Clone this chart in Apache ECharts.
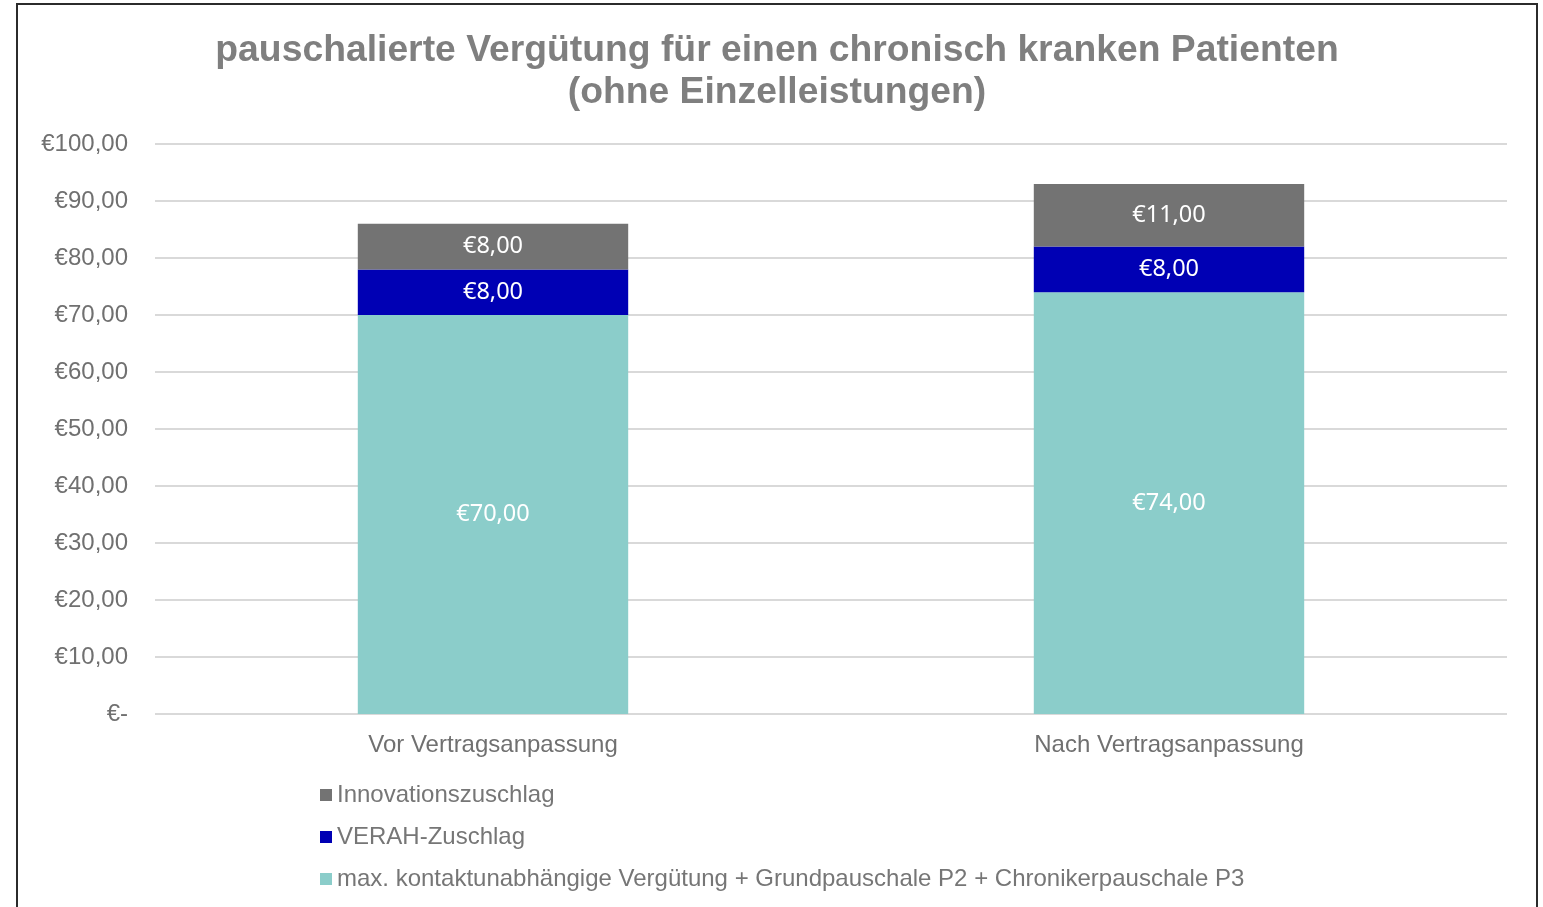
<!DOCTYPE html>
<html>
<head>
<meta charset="utf-8">
<script src="https://cdn.jsdelivr.net/npm/echarts@6/dist/echarts.min.js"></script>
<style>
  html, body { margin: 0; padding: 0; background: #fff; }
  #chart { width: 1543px; height: 907px; }
</style>
</head>
<body>
<div id="chart"></div>
<script>
// Daten
var categories = ["Vor Vertragsanpassung", "Nach Vertragsanpassung"];
var pauschale = [70, 74];     // max. kontaktunabhängige Vergütung + P2 + P3
var verah = [8, 8];           // VERAH-Zuschlag
var innovation = [8, 11];     // Innovationszuschlag
var yTicks = [0, 10, 20, 30, 40, 50, 60, 70, 80, 90, 100];

var nameP = "max. kontaktunabhängige Vergütung + Grundpauschale P2 + Chronikerpauschale P3";
var nameV = "VERAH-Zuschlag";
var nameI = "Innovationszuschlag";

function euro(v) {
    if (v === 0) return "€-";
    return "€" + v.toFixed(2).replace(".", ",");
}

var axisFont = "Liberation Sans, Arial, sans-serif";
var labelStyle = {
    show: true,
    position: "inside",
    color: "#ffffff",
    fontFamily: "Noto Sans, sans-serif",
    fontSize: 23.5,
    formatter: function (p) { return euro(p.value); }
};

function barSeries(name, data, color) {
    return {
        name: name,
        type: "bar",
        stack: "total",
        barWidth: "40%",
        data: data,
        itemStyle: { color: color },
        label: labelStyle
    };
}

var chart = echarts.init(document.getElementById("chart"));
chart.setOption({
    animation: false,
    backgroundColor: "#ffffff",
    title: {
        text: "pauschalierte Vergütung für einen chronisch kranken Patienten\n(ohne Einzelleistungen)",
        left: 772,
        top: 25,
        textAlign: "center",
        textStyle: {
            fontFamily: axisFont,
            fontWeight: "bold",
            fontSize: 37.3,
            lineHeight: 42,
            color: "#7f7f7f"
        }
    },
    graphic: [{
        type: "rect",
        shape: { x: 17, y: 4, width: 1520, height: 950 },
        style: { fill: "none", stroke: "#2b2b2b", lineWidth: 2 },
        silent: true
    }],
    legend: {
        orient: "vertical",
        left: 320,
        top: 783,
        padding: 0,
        itemWidth: 12,
        itemHeight: 12,
        itemGap: 18,
        icon: "rect",
        data: [nameI, nameV, nameP],
        textStyle: {
            fontFamily: axisFont,
            fontSize: 24,
            lineHeight: 24,
            color: "#767676"
        }
    },
    grid: { left: 155, right: 36, top: 144, bottom: 193 },
    xAxis: {
        type: "category",
        data: categories,
        axisLine: { show: false },
        axisTick: { show: false },
        axisLabel: {
            fontFamily: axisFont,
            fontSize: 24,
            color: "#707070",
            margin: 19
        }
    },
    yAxis: {
        type: "value",
        min: yTicks[0],
        max: yTicks[yTicks.length - 1],
        interval: 10,
        axisLine: { show: false },
        axisTick: { show: false },
        splitLine: { lineStyle: { color: "#d9d9d9", width: 2 } },
        axisLabel: {
            fontFamily: axisFont,
            fontSize: 24,
            color: "#707070",
            margin: 27,
            formatter: euro
        }
    },
    series: [
        barSeries(nameP, pauschale, "#8bcdca"),
        barSeries(nameV, verah, "#0000b4"),
        barSeries(nameI, innovation, "#737373")
    ]
});
</script>
</body>
</html>
